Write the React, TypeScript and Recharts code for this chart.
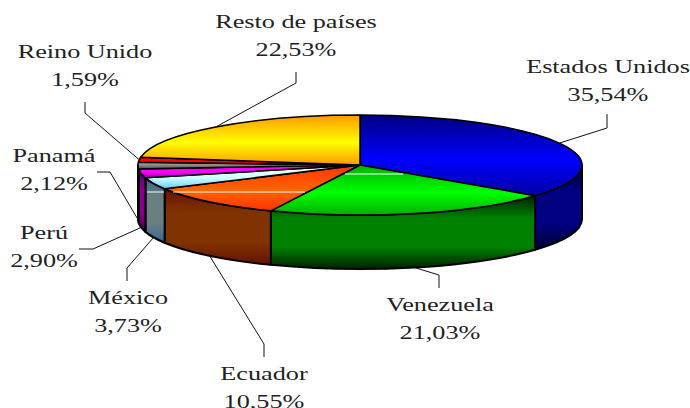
import { PieChart, Pie } from 'recharts';

const COUNTRIES = ['Estados Unidos', 'Venezuela', 'Ecuador', 'México', 'Perú', 'Panamá', 'Reino Unido', 'Resto de países'];
const SHARES = [35.54, 21.03, 10.55, 3.73, 2.9, 2.12, 1.59, 22.53];

const data = COUNTRIES.map((name, i) => ({ name, value: SHARES[i] }));

const WIDTH = 690;
const HEIGHT = 408;
const CX = 360;
const CY = 165;
const RX = 222;
const RY = 50;
const DEPTH = 54;

// [edge, middle, edge] gradient stops for the top face and the rim of each slice
const TOPS: Record<string, string[]> = {
  'Estados Unidos': ['#000080', '#0000ff', '#0000a0'],
  Venezuela: ['#00b000', '#00ff00', '#00b000'],
  Ecuador: ['#ff3300', '#ff6600', '#ff3300'],
  México: ['#ffffff', '#ccffff', '#66ccff'],
  Perú: ['#ff00ff', '#ff00ff', '#a000a0'],
  Panamá: ['#b0b0b0', '#808080', '#404040'],
  'Reino Unido': ['#ff0000', '#ff0000', '#c00000'],
  'Resto de países': ['#ff9900', '#ffff00', '#ff9900'],
};
const WALLS: Record<string, string[]> = {
  'Estados Unidos': ['#000030', '#000080', '#000030'],
  Venezuela: ['#002000', '#008000', '#002000'],
  Ecuador: ['#661100', '#803300', '#661100'],
  México: ['#336680', '#6a8080', '#336699'],
  Perú: ['#400060', '#8b008b', '#400040'],
  Panamá: ['#303030', '#606060', '#303030'],
  'Reino Unido': ['#600000', '#900000', '#600000'],
  'Resto de países': ['#806000', '#a08000', '#806000'],
};

// label centre, and leader elbow points after the rim anchor
const LABELS: Record<string, { x: number; y: number; elbow: number[][] }> = {
  'Estados Unidos': { x: 608, y: 73, elbow: [[607, 128], [607, 114]] },
  Venezuela: { x: 440, y: 311, elbow: [[439, 275], [439, 288]] },
  Ecuador: { x: 264, y: 380, elbow: [[264, 344], [264, 357]] },
  México: { x: 128, y: 304, elbow: [[127, 268], [127, 281]] },
  Perú: { x: 44, y: 239, elbow: [[93, 249], [79, 249]] },
  Panamá: { x: 54, y: 162, elbow: [[110, 172], [97, 172]] },
  'Reino Unido': { x: 85, y: 58, elbow: [[85, 113], [85, 102]] },
  'Resto de países': { x: 296, y: 28, elbow: [[296, 83], [296, 72]] },
};

// thin white seams the original rendering leaves across the pie: [x1, x2, y offset from centre]
const SEAMS = [
  [-213, -196, 27],
  [-187, -55, 27],
  [-15, 43, 9],
];

const rim = (cx: number, cy: number, deg: number) => {
  const a = (deg * Math.PI) / 180;
  return [cx + RX * Math.cos(a), cy - RY * Math.sin(a)];
};

function Slice3D(props: any) {
  const { cx, cy, startAngle, endAngle, name, index } = props;
  const label = name ?? props.payload?.name;
  const [x1, y1] = rim(cx, cy, startAngle);
  const [x2, y2] = rim(cx, cy, endAngle);
  const large = startAngle - endAngle > 180 ? 1 : 0;
  const top = `M${cx},${cy}L${x1},${y1}A${RX},${RY} 0 ${large} 1 ${x2},${y2}Z`;

  // only the part of the rim facing the viewer gets a wall
  const hi = Math.min(startAngle, 0);
  const lo = Math.max(endAngle, -180);
  let wall = null;
  if (hi > lo) {
    const [ax, ay] = rim(cx, cy, hi);
    const [bx, by] = rim(cx, cy, lo);
    wall = `M${ax},${ay}A${RX},${RY} 0 0 1 ${bx},${by}L${bx},${by + DEPTH}A${RX},${RY} 0 0 0 ${ax},${ay + DEPTH}Z`;
  }
  const id = COUNTRIES.indexOf(label);
  return (
    <g>
      {wall && <path d={wall} fill={`url(#wall${id})`} stroke="#000" strokeWidth={2} strokeLinejoin="round" />}
      <path d={top} fill={`url(#top${id})`} stroke="#000" strokeWidth={1.5} strokeLinejoin="round" />
      {index === COUNTRIES.length - 1 &&
        SEAMS.map(([a, b, dy]) => (
          <line key={a} x1={cx + a} x2={cx + b} y1={cy + dy} y2={cy + dy} stroke="#fff" strokeWidth={1} />
        ))}
    </g>
  );
}

const TEXT_STYLE = {
  fontFamily: '"Liberation Serif", serif',
  fontSize: 19,
  fill: '#222',
};
const STRETCH = 1.38;

function SliceLabel(props: any) {
  const { cx, cy, midAngle, name, value } = props;
  const spec = LABELS[name];
  let [ax, ay] = rim(cx, cy, midAngle);
  if (Math.sin((midAngle * Math.PI) / 180) < 0.02) ay += DEPTH;
  const pts = [[ax, ay], ...spec.elbow].map((p) => p.join(',')).join(' ');
  const pct = value.toFixed(2).replace('.', ',') + '%';
  return (
    <g>
      <polyline points={pts} fill="none" stroke="#111" strokeWidth={1} />
      <text transform={`translate(${spec.x},${spec.y}) scale(${STRETCH},1)`} textAnchor="middle" {...TEXT_STYLE}>
        {name}
      </text>
      <text transform={`translate(${spec.x},${spec.y + 28}) scale(${STRETCH},1)`} textAnchor="middle" {...TEXT_STYLE}>
        {pct}
      </text>
    </g>
  );
}

function topStops(id: string, colors: string[]) {
  return (
    <linearGradient key={id} id={id} x1="0" y1="0" x2="0" y2="1">
      <stop offset="0%" stopColor={colors[0]} />
      <stop offset="55%" stopColor={colors[1]} />
      <stop offset="100%" stopColor={colors[2]} />
    </linearGradient>
  );
}

function wallStops(id: string, colors: string[]) {
  return (
    <linearGradient key={id} id={id} x1="0" y1="0" x2="0" y2="1">
      <stop offset="0%" stopColor={colors[0]} />
      <stop offset="30%" stopColor={colors[1]} />
      <stop offset="70%" stopColor={colors[1]} />
      <stop offset="100%" stopColor={colors[2]} />
    </linearGradient>
  );
}

export default function App() {
  return (
    <div style={{ position: 'absolute', left: 0, top: 0, width: WIDTH, height: HEIGHT, overflow: 'hidden' }}>
      <PieChart width={WIDTH} height={HEIGHT} margin={{ top: 0, right: 0, bottom: 0, left: 0 }}>
        <defs>
          {COUNTRIES.map((c, i) => topStops(`top${i}`, TOPS[c]))}
          {COUNTRIES.map((c, i) => wallStops(`wall${i}`, WALLS[c]))}
        </defs>
        <Pie
          data={data}
          dataKey="value"
          nameKey="name"
          cx={CX}
          cy={CY}
          innerRadius={0}
          outerRadius={RX}
          startAngle={90}
          endAngle={-270}
          stroke="none"
          shape={Slice3D}
          label={SliceLabel}
          labelLine={false}
          isAnimationActive={false}
        />
      </PieChart>
    </div>
  );
}
